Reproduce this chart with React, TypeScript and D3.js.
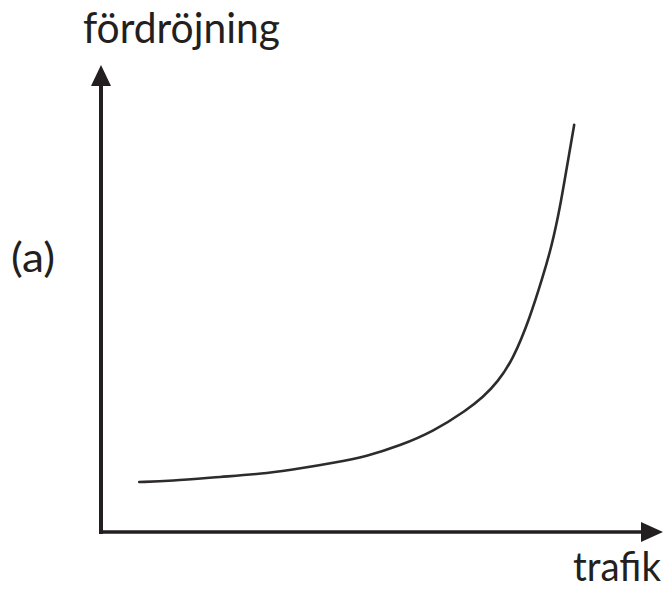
import React from "react";
import * as d3 from "d3";

const traffic = [6.8, 12.3, 21.2, 30.1, 35.4, 41.3, 47.3, 53.2, 59.1, 65.1, 68.0, 70.5, 73.3, 76.3, 78.6, 80.2, 81.7, 82.9, 84.2];
const delay = [10.7, 10.9, 11.8, 12.6, 13.6, 14.8, 16.2, 18.5, 21.5, 26.1, 28.9, 32.0, 36.9, 45.8, 54.6, 61.2, 69.6, 78.2, 87.2];

const yLabel = "fördröjning";
const xLabel = "trafik";
const panelLabel = "(a)";

const W = 668;
const H = 590;
const ink = "#231f20";
const font = "Lato, 'Open Sans', sans-serif";

export default function App() {
  const x = d3.scaleLinear().domain([0, 100]).range([101, 663]);
  const y = d3.scaleLinear().domain([0, 100]).range([532, 65]);
  const pts: [number, number][] = traffic.map((t, i) => [t, delay[i]]);
  const line = d3
    .line<[number, number]>()
    .x((d) => x(d[0]))
    .y((d) => y(d[1]))
    .curve(d3.curveBasis);

  const x0 = x(0);
  const y0 = y(0);
  const xEnd = x(100);
  const yEnd = y(100);

  return (
    <svg
      width={W}
      height={H}
      viewBox={`0 0 ${W} ${H}`}
      style={{ position: "absolute", left: 0, top: 0, background: "#fff" }}
    >
      <rect x={0} y={0} width={W} height={H} fill="#fff" />
      {/* y axis */}
      <line x1={x0} y1={yEnd + 18} x2={x0} y2={y0 + 2} stroke={ink} strokeWidth={4} />
      <polygon
        points={`${x0},${yEnd} ${x0 - 10},${yEnd + 21} ${x0 + 10},${yEnd + 21}`}
        fill={ink}
      />
      {/* x axis */}
      <line x1={x0 - 2} y1={y0} x2={xEnd - 18} y2={y0} stroke={ink} strokeWidth={3.5} />
      <polygon
        points={`${xEnd},${y0} ${xEnd - 22},${y0 - 10} ${xEnd - 22},${y0 + 10}`}
        fill={ink}
      />
      {/* curve */}
      <path d={line(pts) || ""} fill="none" stroke="#2e2b2c" strokeWidth={2.6} strokeLinecap="round" />
      {/* labels */}
      <text
        x={83}
        y={43}
        fontFamily={font}
        fontSize={43}
        fill={ink}
        textLength={197}
        lengthAdjust="spacingAndGlyphs"
      >
        {yLabel}
      </text>
      <text
        x={11}
        y={272}
        fontFamily={font}
        fontSize={40}
        fill={ink}
        textLength={44}
        lengthAdjust="spacingAndGlyphs"
      >
        {panelLabel}
      </text>
      <text
        x={573}
        y={581}
        fontFamily={font}
        fontSize={40}
        fill={ink}
        textLength={88}
        lengthAdjust="spacingAndGlyphs"
      >
        {xLabel}
      </text>
    </svg>
  );
}
